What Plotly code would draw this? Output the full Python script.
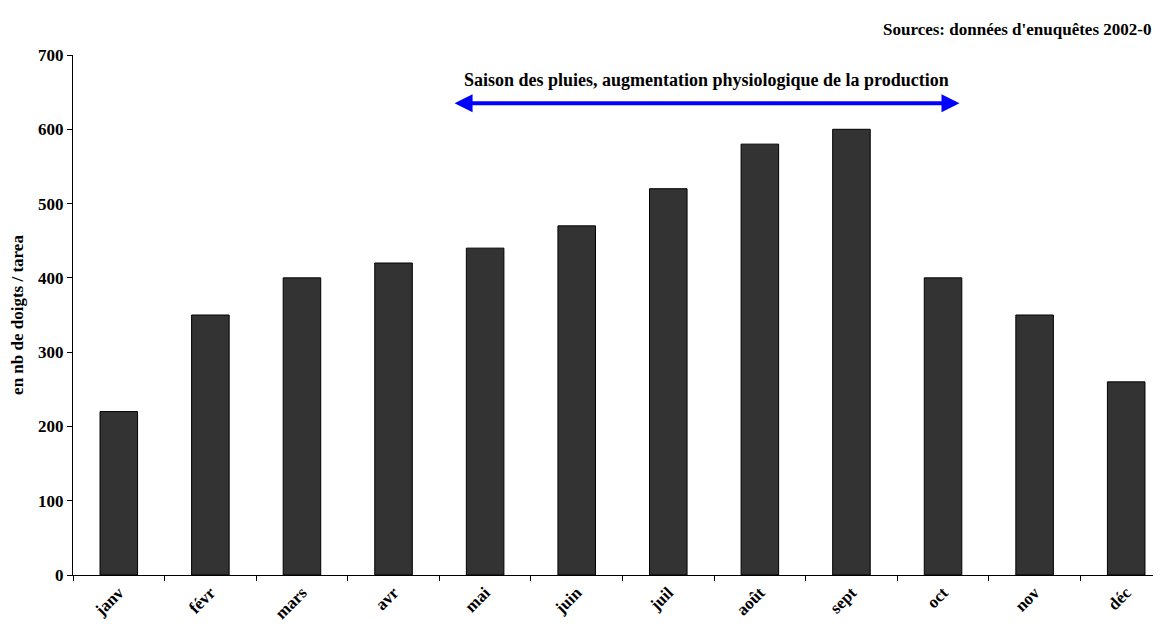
import plotly.graph_objects as go

months = ["janv", "févr", "mars", "avr", "mai", "juin",
          "juil", "août", "sept", "oct", "nov", "déc"]
production = [220, 350, 400, 420, 440, 470, 520, 580, 600, 400, 350, 260]

y_ticks = [0, 100, 200, 300, 400, 500, 600, 700]

# rainy season arrow (category positions, value level)
season_start = 3.65
season_end = 9.18
season_level = 635
season_label = "Saison des pluies, augmentation physiologique de la production"
source_note = "Sources: données d'enuquêtes 2002-0"

FONT = "Liberation Serif"


def build_chart():
    fig = go.Figure(
        data=go.Bar(
            x=months,
            y=production,
            marker=dict(color="#333333", line=dict(color="black", width=1)),
            width=0.41,
        )
    )

    fig.add_annotation(
        x=season_end, y=season_level, ax=season_start, ay=season_level,
        xref="x", yref="y", axref="x", ayref="y",
        text="", showarrow=True,
        arrowhead=2, startarrowhead=2, arrowside="end+start",
        arrowsize=0.9, startarrowsize=0.9, arrowwidth=4, arrowcolor="#0000FF",
    )
    fig.add_annotation(
        x=(season_start + season_end) / 2, y=666, xref="x", yref="y",
        text="<b>%s</b>" % season_label, showarrow=False,
        font=dict(family=FONT, size=18, color="black"),
    )
    fig.add_annotation(
        x=1, y=1, xref="paper", yref="paper", xanchor="right", yanchor="top",
        text="<b>%s</b>" % source_note, showarrow=False,
        font=dict(family=FONT, size=17, color="black"),
        yshift=37, xshift=-8,
    )

    # page body adds 8px on top/left, so the figure is 8px smaller
    fig.update_layout(
        width=1153, height=621,
        margin=dict(l=65, r=0, t=47, b=54),
        plot_bgcolor="white", paper_bgcolor="white",
        showlegend=False,
        font=dict(family=FONT, size=17, color="black"),
    )

    fig.update_xaxes(
        range=[-0.5, 11.38],
        showline=True, linecolor="black", linewidth=1,
        ticks="outside", tickson="boundaries", ticklen=5, tickcolor="black",
        tickangle=-45, showgrid=False,
        tickfont=dict(family=FONT, size=17, weight="bold"),
    )
    fig.update_yaxes(
        range=[0, 700], tickvals=y_ticks,
        showline=True, linecolor="black", linewidth=1,
        ticks="outside", ticklen=5, tickcolor="black",
        showgrid=False, zeroline=False,
        tickfont=dict(family=FONT, size=17, weight="bold"),
        title=dict(text="<b>en nb de doigts / tarea</b>",
                   font=dict(family=FONT, size=17), standoff=10),
    )
    return fig


def main():
    fig = build_chart()
    fig.write_html("out.html")


if __name__ == "__main__":
    main()
